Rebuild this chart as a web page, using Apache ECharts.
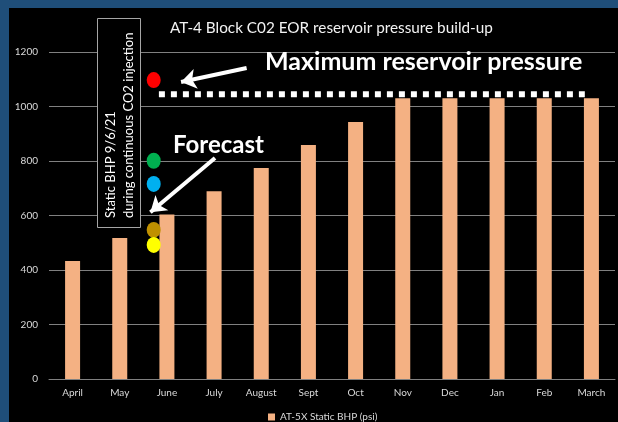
<!DOCTYPE html>
<html>
<head>
<meta charset="utf-8">
<script src="https://cdn.jsdelivr.net/npm/echarts@6/dist/echarts.min.js"></script>
<style>
  html, body { margin: 0; padding: 0; background: #000; }
  #chart { width: 618px; height: 422px; }
</style>
</head>
<body>
<div id="chart"></div>
<script>
// Monthly static bottom-hole pressure, AT-5X (psi)
const months = ['April', 'May', 'June', 'July', 'August', 'Sept', 'Oct', 'Nov', 'Dec', 'Jan', 'Feb', 'March'];
const staticBHP = [433, 517, 604, 689, 774, 859, 943, 1030, 1030, 1030, 1030, 1030];
const yTicks = [0, 200, 400, 600, 800, 1000, 1200];

// Static BHP readings of 9/6/21 during continuous CO2 injection
const readingPos = 2.22;   // position along the month axis (between May and June)
const readings = [1097, 801, 716, 547, 492];
const readingColors = ['#ff0000', '#00b050', '#00b0f0', '#bf9000', '#ffff00'];

// Maximum reservoir pressure level
const maxPressure = 1045;
const maxPressureSpan = [2.33, 11.36];

const FONT = 'Lato, "Open Sans", sans-serif';
const chart = echarts.init(document.getElementById('chart'), null, { renderer: 'canvas' });

chart.setOption({
  backgroundColor: '#000',
  animation: false,
  textStyle: { fontFamily: FONT },
  title: {
    text: 'AT-4 Block C02 EOR reservoir pressure build-up',
    left: 165, top: 16,
    textStyle: { color: '#f2f2f2', fontSize: 15.3, fontWeight: 'normal', fontFamily: FONT }
  },
  legend: {
    data: ['AT-5X Static BHP (psi)'],
    left: 263, top: 407,
    itemWidth: 7, itemHeight: 7, itemGap: 4,
    icon: 'rect',
    textStyle: { color: '#d9d9d9', fontSize: 10, fontFamily: FONT }
  },
  grid: { left: 49, right: 3, top: 52, bottom: 43 },
  xAxis: [
    {
      type: 'category', data: months,
      axisLine: { lineStyle: { color: '#808080', width: 1 } },
      axisTick: { show: false },
      axisLabel: { color: '#d9d9d9', fontSize: 10, margin: 9, fontFamily: FONT }
    },
    { type: 'value', min: 0, max: 12, show: false }
  ],
  yAxis: {
    type: 'value', min: yTicks[0], max: yTicks[yTicks.length - 1], interval: 200,
    axisLine: { show: false }, axisTick: { show: false },
    axisLabel: { color: '#d9d9d9', fontSize: 10, margin: 11, fontFamily: FONT, formatter: v => String(v) },
    splitLine: { lineStyle: { color: '#808080', width: 1 } }
  },
  series: [
    {
      name: 'AT-5X Static BHP (psi)', type: 'bar', data: staticBHP,
      barWidth: 15, itemStyle: { color: '#f4b183' }
    },
    {
      name: 'max', type: 'line', xAxisIndex: 1, symbol: 'none',
      data: [[maxPressureSpan[0], maxPressure], [maxPressureSpan[1], maxPressure]],
      lineStyle: { color: '#ffffff', width: 6, type: [6, 6], cap: 'butt' },
      z: 3
    },
    {
      name: 'readings', type: 'scatter', xAxisIndex: 1,
      symbol: 'circle', symbolSize: [14, 16],
      data: readings.map((v, i) => ({ value: [readingPos, v], itemStyle: { color: readingColors[i], opacity: 1 } })),
      z: 4
    },
    {
      name: 'arrows', type: 'lines', coordinateSystem: 'cartesian2d', xAxisIndex: 1,
      symbol: ['none', 'arrow'], symbolSize: 15,
      lineStyle: { color: '#ffffff', width: 4, opacity: 1 },
      data: [
        { coords: [[4.19, 1141], [2.8, 1090]] },
        { coords: [[3.52, 811], [2.15, 612]] }
      ],
      z: 5
    }
  ],
  graphic: [
    { type: 'rect', shape: { x: 0, y: 0, width: 618, height: 8 }, style: { fill: '#1f4e79' }, z: 200 },
    { type: 'rect', shape: { x: 0, y: 0, width: 9, height: 422 }, style: { fill: '#1f4e79' }, z: 200 },
    {
      type: 'rect', shape: { x: 97.5, y: 18.5, width: 43, height: 209 },
      style: { fill: '#000', stroke: '#a6a6a6', lineWidth: 1 }, z: 100
    },
    {
      type: 'text', x: 111, y: 218, rotation: Math.PI / 2, z: 101,
      style: { text: 'Static BHP 9/6/21', fill: '#ffffff', font: '13px ' + FONT, align: 'left', verticalAlign: 'middle' }
    },
    {
      type: 'text', x: 128.5, y: 218, rotation: Math.PI / 2, z: 101,
      style: { text: 'during continuous CO2 injection', fill: '#ffffff', font: '13px ' + FONT, align: 'left', verticalAlign: 'middle' }
    },
    {
      type: 'text', x: 265, y: 62, z: 101,
      style: { text: 'Maximum reservoir pressure', fill: '#ffffff', font: 'bold 25px ' + FONT, align: 'left', verticalAlign: 'middle' }
    },
    {
      type: 'text', x: 173, y: 145, z: 101,
      style: { text: 'Forecast', fill: '#ffffff', font: 'bold 24px ' + FONT, align: 'left', verticalAlign: 'middle' }
    }
  ]
});
</script>
</body>
</html>
